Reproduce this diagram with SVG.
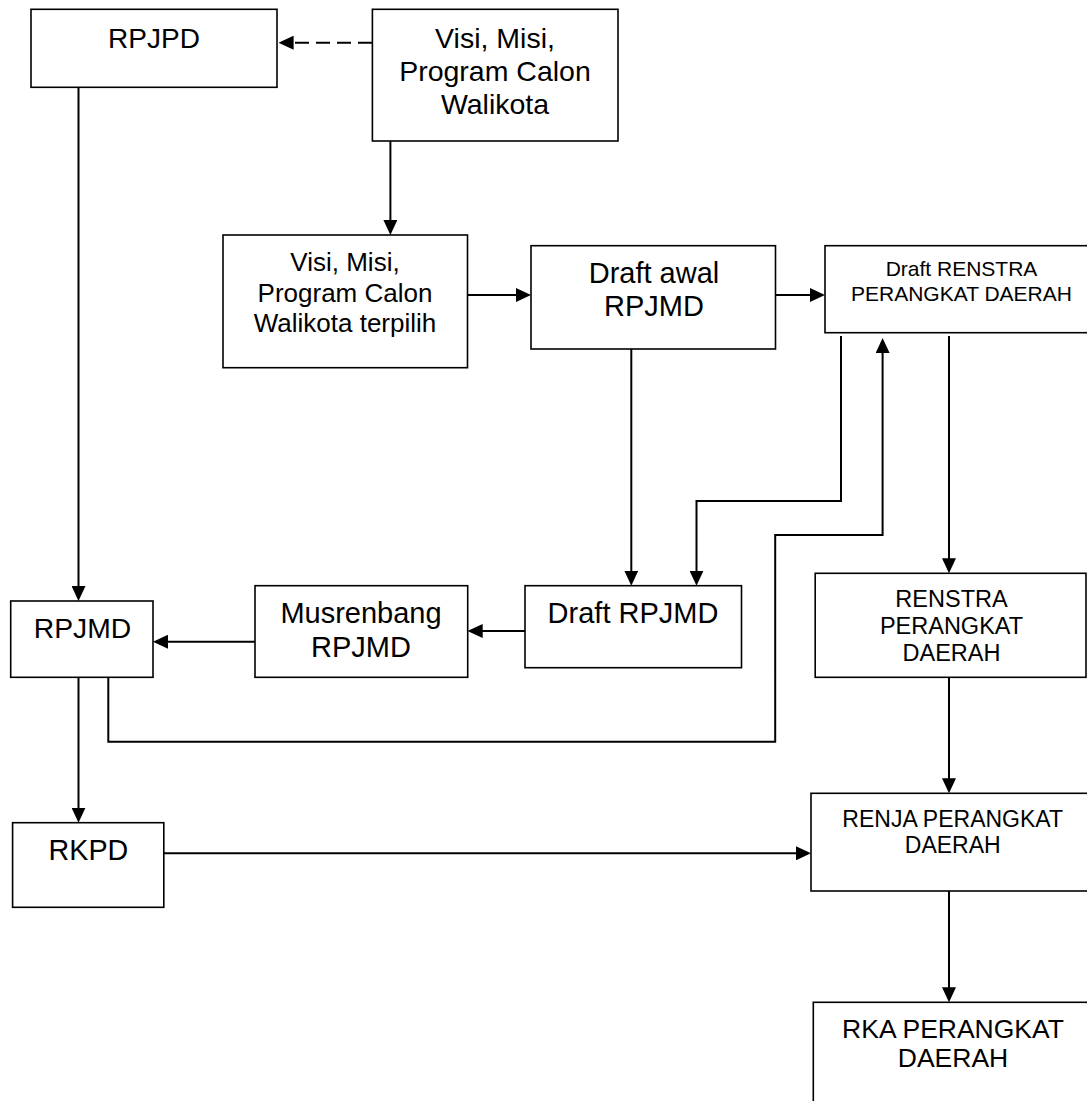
<svg xmlns="http://www.w3.org/2000/svg" width="1087" height="1101" viewBox="0 0 1087 1101">
<style>
.box{fill:#fff;stroke:#000;stroke-width:1.6}
.t{font-family:"Liberation Sans",Arial,sans-serif;fill:#000;text-anchor:middle}
.c{fill:none;stroke:#000;stroke-width:2}
</style>
<defs>
<marker id="ah" viewBox="0 0 15 14" refX="11" refY="7" markerWidth="15" markerHeight="14" markerUnits="userSpaceOnUse" orient="auto">
<path d="M0,0 L15,7 L0,14 z" fill="#000"/>
</marker>
</defs>
<rect width="1087" height="1101" fill="#fff"/>
<g id="connectors">
<path class="c" d="M372,42.7 H282.6" stroke-dasharray="14 7" marker-end="url(#ah)"/>
<path class="c" d="M78.5,87.3 V597" marker-end="url(#ah)"/>
<path class="c" d="M390.4,141 V231" marker-end="url(#ah)"/>
<path class="c" d="M467.7,295 H527" marker-end="url(#ah)"/>
<path class="c" d="M775.5,295 H821" marker-end="url(#ah)"/>
<path class="c" d="M631.3,349 V581.7" marker-end="url(#ah)"/>
<path class="c" d="M841,336 V501 H696.5 V581.7" marker-end="url(#ah)"/>
<path class="c" d="M108.3,677.3 V741.7 H775.2 V535 H882.6 V342" stroke-width="1.6" marker-end="url(#ah)"/>
<path class="c" d="M949,336 V569.3" marker-end="url(#ah)"/>
<path class="c" d="M525,631 H471.7" marker-end="url(#ah)"/>
<path class="c" d="M255,641.7 H157" marker-end="url(#ah)"/>
<path class="c" d="M78.5,677.3 V818.7" marker-end="url(#ah)"/>
<path class="c" d="M163.8,853.3 H807" stroke-width="2.5" marker-end="url(#ah)"/>
<path class="c" d="M949,677.3 V789.3" marker-end="url(#ah)"/>
<path class="c" d="M949,891 V998.3" marker-end="url(#ah)"/>
</g>
<g id="rpjpd">
<rect class="box" x="31" y="9.3" width="246" height="78"/>
<text class="t" x="154" y="48" font-size="28">RPJPD</text>
</g>
<g id="visi">
<rect class="box" x="372.4" y="9.3" width="245.6" height="131.7"/>
<text class="t" x="495" y="48" font-size="28.5">Visi, Misi,</text>
<text class="t" x="495" y="81" font-size="28.5">Program Calon</text>
<text class="t" x="495" y="114" font-size="28.5">Walikota</text>
</g>
<g id="visi-terpilih">
<rect class="box" x="223" y="235" width="244.5" height="132.7"/>
<text class="t" x="345" y="270.7" font-size="26">Visi, Misi,</text>
<text class="t" x="345" y="301.7" font-size="26">Program Calon</text>
<text class="t" x="345" y="331.7" font-size="26">Walikota terpilih</text>
</g>
<g id="draft-awal">
<rect class="box" x="531" y="245.7" width="244.5" height="103.3"/>
<text class="t" x="654" y="283.3" font-size="29">Draft awal</text>
<text class="t" x="654" y="316" font-size="29">RPJMD</text>
</g>
<g id="draft-renstra">
<rect class="box" x="825" y="245.7" width="275" height="87"/>
<text class="t" x="961.5" y="276" font-size="21">Draft RENSTRA</text>
<text class="t" x="961.5" y="300.7" font-size="21">PERANGKAT DAERAH</text>
</g>
<g id="draft-rpjmd">
<rect class="box" x="525" y="585.7" width="216.5" height="82"/>
<text class="t" x="633" y="623.3" font-size="29">Draft RPJMD</text>
</g>
<g id="musrenbang">
<rect class="box" x="255" y="585.7" width="212.7" height="91.6"/>
<text class="t" x="361" y="623.3" font-size="29">Musrenbang</text>
<text class="t" x="361" y="656.7" font-size="29">RPJMD</text>
</g>
<g id="rpjmd">
<rect class="box" x="10.7" y="601" width="142.3" height="76.3"/>
<text class="t" x="82.5" y="638.3" font-size="28.3">RPJMD</text>
</g>
<g id="renstra">
<rect class="box" x="815.2" y="573.3" width="270.8" height="104"/>
<text class="t" x="951.5" y="606.7" font-size="23.5">RENSTRA</text>
<text class="t" x="951.5" y="634" font-size="23.5">PERANGKAT</text>
<text class="t" x="951.5" y="660.7" font-size="23.5">DAERAH</text>
</g>
<g id="rkpd">
<rect class="box" x="12.6" y="822.7" width="151.2" height="84.6"/>
<text class="t" x="88.4" y="860" font-size="28.7">RKPD</text>
</g>
<g id="renja">
<rect class="box" x="811" y="793.3" width="290" height="97.7"/>
<text class="t" x="952.7" y="826.7" font-size="23">RENJA PERANGKAT</text>
<text class="t" x="952.7" y="852.7" font-size="23">DAERAH</text>
</g>
<g id="rka">
<rect class="box" x="813.3" y="1002.3" width="290" height="110"/>
<text class="t" x="953" y="1038.3" font-size="26.5">RKA PERANGKAT</text>
<text class="t" x="953" y="1067.3" font-size="26.5">DAERAH</text>
</g>
</svg>
